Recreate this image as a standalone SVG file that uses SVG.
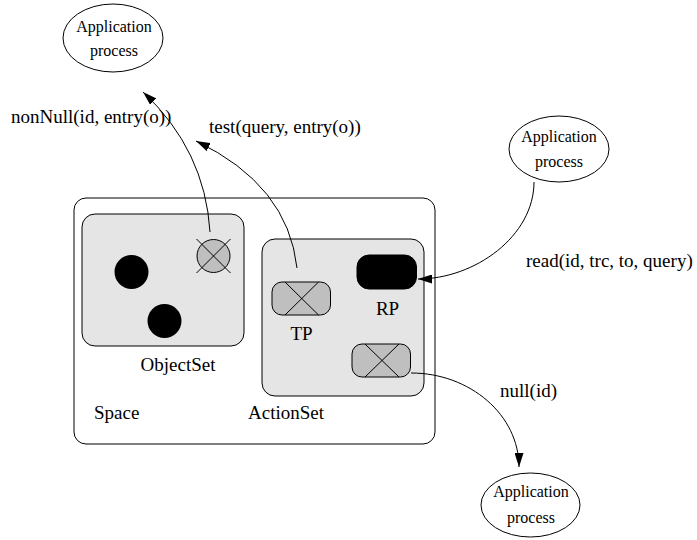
<svg xmlns="http://www.w3.org/2000/svg" width="697" height="540" viewBox="0 0 697 540" font-family="'Liberation Serif', 'Times New Roman', serif">
<style>
.lbl{font-size:19px;font-family:'Liberation Serif','Times New Roman',serif}
.ell{font-size:16px;text-anchor:middle;font-family:'Liberation Serif','Times New Roman',serif}
.mid{text-anchor:middle}
.ln{fill:none;stroke:#000;stroke-width:1}
.set{fill:#e5e5e5;stroke:#000;stroke-width:1}
.grey{fill:#bfbfbf;stroke:#000;stroke-width:1}
.app{fill:#fff;stroke:#000;stroke-width:1}
</style>
<defs>
<marker id="ah" viewBox="0 0 14 9" refX="14" refY="4.5" markerWidth="14" markerHeight="9" orient="auto" markerUnits="userSpaceOnUse">
<path d="M0,0 L14,4.5 L0,9 z" fill="#000"/>
</marker>
</defs>

<g id="space">
<rect x="74" y="198" width="361" height="246" rx="12" class="ln"/>
<text x="94" y="419" class="lbl">Space</text>
</g>

<g id="objectset">
<rect x="82" y="214" width="162" height="132" rx="13" class="set"/>
<circle cx="131.5" cy="272" r="17" fill="#000"/>
<circle cx="164.5" cy="321" r="17" fill="#000"/>
<text x="178" y="371" class="lbl mid">ObjectSet</text>
</g>

<g id="crossed-object">
<circle cx="213.5" cy="256" r="16.5" class="grey"/>
<path d="M196.5,239 L230.5,273 M230.5,239 L196.5,273" class="ln"/>
</g>

<g id="actionset">
<rect x="262" y="239" width="162" height="157" rx="13" class="set"/>
<text x="286" y="419" class="lbl mid">ActionSet</text>
</g>

<g id="tp">
<rect x="272" y="282" width="58.5" height="33" rx="10" class="grey"/>
<path d="M285,282 L318.5,315 M318.5,282 L285,315" class="ln"/>
<text x="301.5" y="340" class="lbl mid">TP</text>
</g>

<g id="rp">
<rect x="357" y="255" width="59.5" height="34" rx="12" fill="#000" stroke="#000"/>
<text x="387.5" y="315" class="lbl mid">RP</text>
</g>

<g id="null-action">
<rect x="352" y="344" width="58.5" height="33" rx="10" class="grey"/>
<path d="M365,344 L399,377 M399,344 L365,377" class="ln"/>
</g>

<g id="app-top-left">
<ellipse cx="113" cy="38" rx="50" ry="34" class="app"/>
<text x="114" y="32" class="ell">Application</text>
<text x="114" y="55.5" class="ell">process</text>
</g>

<g id="app-top-right">
<ellipse cx="559" cy="149" rx="50" ry="33" class="app"/>
<text x="559" y="142" class="ell">Application</text>
<text x="559" y="166.5" class="ell">process</text>
</g>

<g id="app-bottom">
<ellipse cx="530.5" cy="505" rx="49.5" ry="32" class="app"/>
<text x="531" y="497" class="ell">Application</text>
<text x="531" y="523" class="ell">process</text>
</g>

<g id="connectors">
<path d="M210,232 Q205,150 143,92" class="ln" marker-end="url(#ah)"/>
<path d="M297,268 Q288,185 196,141" class="ln" marker-end="url(#ah)"/>
<path d="M534,182 C534,236 475,279 418,279" class="ln" marker-end="url(#ah)"/>
<path d="M411,373 C470,373 519,415 519,467" class="ln" marker-end="url(#ah)"/>
</g>

<g id="labels">
<text x="11" y="123" class="lbl">nonNull(id, entry(o))</text>
<text x="209" y="133" class="lbl">test(query, entry(o))</text>
<text x="526" y="267" class="lbl">read(id, trc, to, query)</text>
<text x="500" y="397" class="lbl">null(id)</text>
</g>
</svg>
